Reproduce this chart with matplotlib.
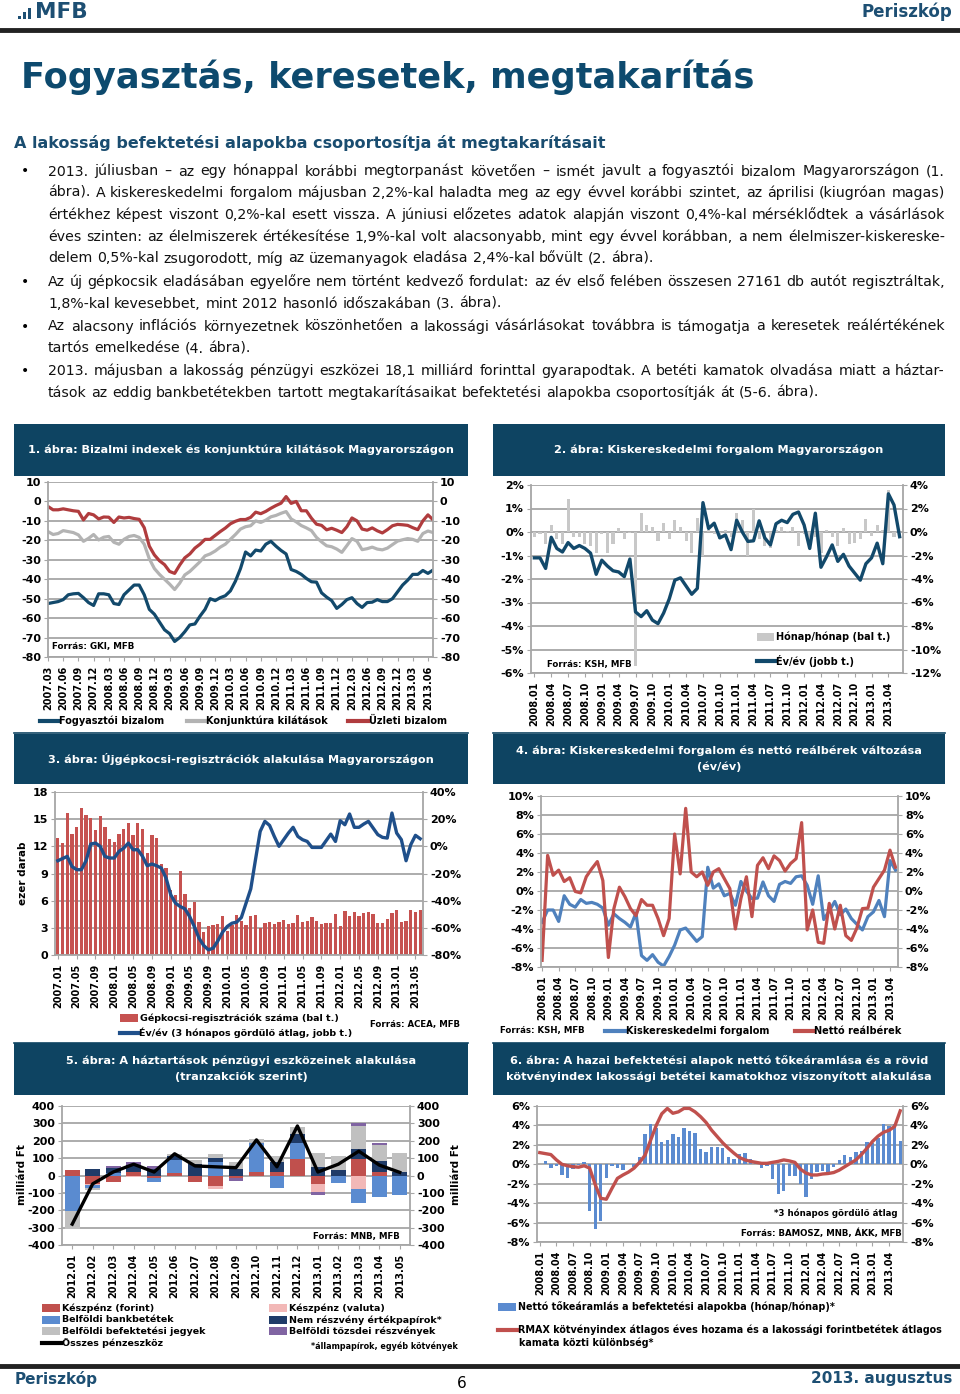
import matplotlib
matplotlib.use('Agg')
import matplotlib.pyplot as plt
import numpy as np
import pandas as pd
from matplotlib.lines import Line2D
from matplotlib.patches import Rectangle
from matplotlib.ticker import FuncFormatter

plt.rcParams['font.family'] = 'DejaVu Sans'
plt.rcParams['font.weight'] = 'bold'
plt.rcParams['axes.unicode_minus'] = False

W, H = 960, 1394
HEAD = '#0e4462'
BLUE_TXT = '#1d4f73'
GRID = '#a6a6a6'

# ---------------- data ----------------
# 1. abra: 2007.03 - 2013.07
consumer = [-52.5, -52, -51.5, -50.5, -48, -47.5, -47.3, -49.5, -52, -53.5,
            -47.5, -47.5, -48, -52.5, -53, -48, -45.5, -43, -43, -48,
            -55.5, -58, -62, -66, -68, -72, -70, -67, -63.5, -63,
            -59, -55.5, -50, -51, -49.5, -48.5, -46, -41, -34.5, -26,
            -28, -25, -25.5, -22, -20.5, -23, -25.2, -27, -35, -36,
            -37.5, -39.6, -41.3, -41.5, -47, -49.2, -51, -55, -53, -50.5,
            -49.5, -52.5, -54.5, -52, -51.8, -50.5, -51.5, -51.5, -50, -46.5,
            -43, -40.5, -37.5, -37.5, -35.5, -37, -35.3]
outlook = [-15.5, -17, -16.5, -15, -15.5, -16, -17.2, -20.5, -19, -17,
           -19.8, -18.4, -18, -21, -22, -19.5, -18, -17.5, -18.5, -22,
           -29.5, -34.5, -37.5, -40, -42.5, -45.3, -42, -37.8, -36, -33.5,
           -31, -28, -27, -25.5, -23.5, -22, -19.5, -17, -14.2, -13,
           -12.5, -10, -10.8, -9.6, -7.9, -7.2, -6.1, -5.2, -9, -10.5,
           -12.4, -13.6, -15, -18.5, -20.8, -22.8, -23.3, -24.5, -26.2, -22.7,
           -19.1, -20.5, -24.8, -24.3, -23.5, -24.5, -24.9, -24, -22.2, -20.4,
           -19.7, -19.1, -19.5, -20.5, -16.5, -15.2, -16]
business = [-2.6, -4.3, -4.3, -3.8, -4.3, -4.8, -5.1, -9.5, -6.2, -6.9,
            -9, -8, -8.1, -10.8, -8, -8.5, -8.2, -8.8, -9.2, -13.5,
            -23, -27.5, -30.5, -32.5, -36, -37, -32.7, -29, -27, -24,
            -22, -19.5, -19.5, -17.5, -15.5, -13.7, -11.5, -10.2, -9.3, -9.3,
            -8.2, -5.5, -6.3, -5.1, -3.5, -2.1, -0.9, 2.5, -1.0, 0,
            -4.8, -4.8, -8.6, -11.7, -12.3, -14.6, -13.8, -14.8, -16, -13,
            -8.5, -10, -14.2, -14.8, -13.6, -15.1, -16.2, -14.5, -12.5, -11.8,
            -12, -12.3, -13.5, -14.5, -10, -6.9, -9.4]

# 2. abra: 2008.01 - 2013.06
retail_mom = [-0.2, -0.1, -0.5, 0.3, -0.3, -0.5, 1.4, -0.2, -0.2, -0.5,
              -0.6, -0.9, -0.1, -0.9, -0.5, 0.15, -0.3, -0.05, -5.7, 0.8,
              0.3, 0.2, -0.4, 0.4, -0.3, 0.5, 0.2, -0.4, -0.9, 0.6,
              -1.0, 0.1, -0.1, -0.3, 0.1, -0.2, 0.8, 0.5, -1.0, 1.0,
              -0.3, -0.6, -0.7, 0.1, 0.2, 0.05, 0.2, -0.6, -0.1, -0.5,
              -0.2, -0.9, 0.1, -0.2, -0.6, 0.15, -0.5, -0.45, -0.3, 0.55,
              -0.15, 0.3, 0.1, 1.8, -0.2, -0.2]
retail_yoy = [-2.2, -2.2, -3.1, -0.45, -1.4, -1.7, -0.9, -1.4, -1.15, -1.4,
              -1.8, -3.6, -2.4, -2.9, -3.3, -3.4, -3.8, -2.3, -6.8, -7.2,
              -6.7, -7.5, -7.8, -6.9, -5.7, -4.1, -3.9, -4.6, -5.3, -4.8,
              2.5, 0.3, 0.75, -0.5, -0.25, -1.5, 1.0, 0.0, -0.8, -0.75,
              0.95, -0.5, -1.1, 0.7, 1.0, 0.8, 1.5, 1.7, 0.6, -1.4,
              1.6, -3.0, -2.1, -1.1, -2.5, -1.9, -2.9, -3.5, -4.1, -2.7,
              -2.2, -0.95, -2.7, 3.25, 2.3, -0.4]

# 3. abra: 2007.01 - 2013.06
cars = [12.9, 12.4, 15.7, 13.4, 14.1, 16.2, 15.5, 15.1, 13.8, 15.3,
        14.1, 12.8, 12.5, 13.4, 13.9, 14.6, 13.2, 14.6, 13.9, 11.3,
        13.3, 12.9, 10.0, 9.6, 7.2, 6.6, 9.3, 6.7, 5.2, 5.9,
        3.6, 2.5, 3.2, 3.3, 3.4, 4.3, 2.7, 3.3, 4.4, 3.7,
        3.3, 4.3, 4.4, 3.0, 3.5, 3.6, 3.4, 3.6, 3.9, 3.4,
        3.5, 4.4, 3.6, 3.8, 4.2, 3.7, 3.4, 3.5, 3.5, 4.5,
        3.2, 4.9, 4.3, 4.7, 4.3, 4.6, 4.8, 4.5, 3.5, 3.5,
        4.0, 4.6, 5.0, 3.6, 3.8, 5.0, 4.7, 4.95]
cars_yoy = [-10.6, -9, -7.4, -14.8, -17.2, -17.2, -10.6, 1.7, 2.4, 0,
            -7.4, -8.6, -8.6, -3.7, -1.3, 2.4, -2.5, -2.5, -7.4, -14.3,
            -13, -14.3, -16, -23.4, -35.7, -41.8, -44.3, -46, -51.6, -59,
            -67.6, -73, -76.2, -75, -69.6, -63.2, -59, -56.6, -55.8, -52.4,
            -41.8, -31.3, -9.9, 11, 18.4, 15.4, 7.3, 0, 4.9, 9.8,
            14, 7.3, 4.9, 3.6, -0.8, -0.8, -0.8, 4.1, 9, 3.6,
            18.9, 15.9, 23.8, 14, 14, 16.4, 18.4, 13.5, 8.6, 6.6,
            6.1, 24.5, 9.8, 4.9, -10.6, 1.2, 8.1, 5.6]

# 4. abra: 2008.01 - 2013.05
retail4 = [-3.3, -2.0, -2.0, -3.2, -0.5, -1.4, -1.7, -0.9, -1.3, -1.2,
           -1.4, -1.8, -3.6, -2.4, -2.9, -3.3, -3.8, -2.3, -6.8, -7.3,
           -6.7, -7.5, -7.9, -6.9, -5.7, -4.1, -3.9, -4.6, -5.3, -4.8,
           2.5, 0.3, 0.75, -0.5, -0.25, -1.5, 1.0, 0.0, -0.8, -0.75,
           0.95, -0.5, -1.1, 0.7, 1.0, 0.8, 1.5, 1.6, 0.6, -1.4,
           1.6, -3.0, -2.1, -1.1, -2.5, -1.9, -2.9, -3.5, -4.1, -2.7,
           -2.2, -1.0, -2.7, 3.2, 2.2]
wages = [-7.3, 3.75, 1.65, 2.2, 1.0, 1.4, -0.05, -0.2, 1.5, 2.35,
         3.1, 1.1, -7.0, -1.85, 0.4, -0.6, -1.85, -2.6, -0.9, -1.5,
         -1.5, -2.9, -4.7, -2.9, 6.0, 1.8, 8.7, 2.0, 1.5, 2.0,
         0.6, 2.0, 2.35, 1.3, 0.25, -4.0, -0.8, 1.5, -2.7, 2.7,
         3.5, 2.35, 3.7, 3.2, 2.1, 2.9, 3.4, 7.2, -4.1, -2.0,
         -5.4, -5.5, -1.3, -4.0, -1.5, -4.7, -5.2, -3.9, -1.85, -1.8,
         0.4, 1.3, 2.2, 4.3, 2.5]

# 5. abra: 2012.01 - 2013.05, milliard Ft
cash_huf = [30, -50, -35, 20, -15, 15, -35, -60, -15, 20, 20, 95, -50, 0, 95, 20, -5]
cash_fx = [0, -5, 0, -10, 0, 0, 0, -15, 0, -5, 0, 0, -45, 0, -75, 0, 0]
deposits = [-203, -18, 15, 0, -20, 75, 0, 80, 0, 165, -70, 90, 0, -45, -85, -125, -105]
securities = [0, 35, 30, 40, 40, 20, 65, 20, 40, 0, 60, 55, 50, 30, 55, 65, 20]
funds = [-107, -10, 0, 0, 0, 15, 25, 25, 35, 25, 30, 40, 80, 80, 135, 90, 110]
shares = [0, 0, 10, 15, 15, 0, 0, 0, -15, 0, 0, 0, -20, 5, 15, 10, 0]
total = [-280, -48, 20, 65, 20, 125, 55, 50, 45, 205, 50, 285, 20, 65, 140, 60, 18]

# 6. abra: 2008.01 - 2013.06
fund_flow = [0.0, 0.3, -0.4, -0.2, -1.1, -1.4, -0.5, -0.1, 0.2, -4.8,
             -6.7, -5.8, -1.4, -0.2, -0.4, -0.6, 0.0, -0.3, 0.7, 3.1,
             4.1, 3.7, 2.3, 2.5, 3.1, 2.8, 3.7, 3.4, 3.2, 1.6,
             1.3, 1.8, 1.8, 1.7, 0.7, 0.5, 1.1, 1.2, 0.5, 0.1,
             -0.4, -0.2, -1.5, -3.1, -2.8, -1.2, -1.2, -2.0, -3.4, -1.5,
             -0.8, -0.7, -0.9, -0.3, 0.4, 1.0, 0.7, 1.3, 1.4, 2.3,
             2.2, 2.7, 4.1, 3.9, 4.1, 2.4]
rmax_spread = [1.2, 1.1, 1.0, 0.45, 0.0, -0.15, -0.25, -0.3, -0.15, -0.4,
               -2.1, -3.5, -3.6, -2.5, -1.45, -1.1, -0.8, -0.4, 0.2, 0.95,
               2.5, 4.0, 5.2, 5.75, 5.25, 5.4, 5.75, 5.75, 5.4, 4.9,
               4.3, 3.5, 2.85, 2.2, 1.65, 1.15, 0.7, 0.45, 0.3, 0.2,
               0.1, 0.1, 0.2, 0.3, 0.45, 0.35, 0.2, -0.5, -0.9, -1.1,
               -1.1, -1.0, -0.95, -0.85, -0.6, -0.25, 0.1, 0.45, 1.0, 1.65,
               2.35, 2.9, 3.3, 3.5, 3.9, 5.5]


def months(start, n):
    return [p.strftime('%Y.%m') for p in pd.period_range(start, periods=n, freq='M')]


m1 = months('2007-03', len(consumer))
m2 = months('2008-01', len(retail_yoy))
m3 = months('2007-01', len(cars))
m4 = months('2008-01', len(retail4))
m5 = months('2012-01', len(total))
m6 = months('2008-01', len(fund_flow))

body = [
    ('2013. júliusban – az egy hónappal korábbi megtorpanást követően – ismét javult a fogyasztói bizalom Magyarországon (1.', True, True),
    ('ábra). A kiskereskedelmi forgalom májusban 2,2%-kal haladta meg az egy évvel korábbi szintet, az áprilisi (kiugróan magas)', False, True),
    ('értékhez képest viszont 0,2%-kal esett vissza. A júniusi előzetes adatok alapján viszont 0,4%-kal mérséklődtek a vásárlások', False, True),
    ('éves szinten: az élelmiszerek értékesítése 1,9%-kal volt alacsonyabb, mint egy évvel korábban, a nem élelmiszer-kiskereske-', False, True),
    ('delem 0,5%-kal zsugorodott, míg az üzemanyagok eladása 2,4%-kal bővült (2. ábra).', False, False),
    ('Az új gépkocsik eladásában egyelőre nem történt kedvező fordulat: az év első felében összesen 27161 db autót regisztráltak,', True, True),
    ('1,8%-kal kevesebbet, mint 2012 hasonló időszakában (3. ábra).', False, False),
    ('Az alacsony inflációs környezetnek köszönhetően a lakossági vásárlásokat továbbra is támogatja a keresetek reálértékének', True, True),
    ('tartós emelkedése (4. ábra).', False, False),
    ('2013. májusban a lakosság pénzügyi eszközei 18,1 milliárd forinttal gyarapodtak. A betéti kamatok olvadása miatt a háztar-', True, True),
    ('tások az eddig bankbetétekben tartott megtakarításaikat befektetési alapokba csoportosítják át (5-6. ábra).', False, False),
]
body_y = [175.5, 197, 219, 241, 262.5, 286, 307.5, 330.5, 352, 375, 397]
BODY_SIZE = 10.2

fig = plt.figure(figsize=(9.6, 13.94), dpi=100)
renderer = fig.canvas.get_renderer()


def fx(x):
    return x / W


def fy(y):
    return 1 - y / H


def box(l, t, r, b):
    return [l / W, 1 - b / H, (r - l) / W, (b - t) / H]


def hline(x0, x1, y, color, lw):
    fig.add_artist(Line2D([fx(x0), fx(x1)], [fy(y), fy(y)], color=color, lw=lw))


def rect(x0, y0, x1, y1, color):
    fig.add_artist(Rectangle((fx(x0), fy(y1)), (x1 - x0) / W, (y1 - y0) / H,
                             color=color, lw=0))


def txt(x, y, s, size=7, ha='left', va='center', **kw):
    return fig.text(fx(x), fy(y), s, fontsize=size, ha=ha, va=va, **kw)


def leg_line(x0, x1, y, color, label, size=7):
    hline(x0, x1, y, color, 3)
    txt(x1 + 1, y, label, size)


def leg_patch(x0, x1, y, color, label, size=7):
    rect(x0, y - 4, x1, y + 4, color)
    txt(x1 + 2, y, label, size)


def header(x0, x1, y0, y1, lines):
    rect(x0, y0, x1, y1, HEAD)
    mid = (y0 + y1) / 2
    off = (len(lines) - 1) * 8
    for k, s in enumerate(lines):
        txt((x0 + x1) / 2, mid - off + 16 * k, s, 8.1, ha='center', color='white')


def pct(v, p):
    return '{:.0f}%'.format(round(v) + 0)


def num(v, p):
    return '{:.0f}'.format(round(v) + 0)


def frame(ax, lo, hi, step, fmt, right=False):
    ax.set_ylim(lo, hi)
    ax.set_yticks(np.arange(lo, hi + step / 2, step))
    ax.yaxis.set_major_formatter(FuncFormatter(fmt))
    ax.grid(axis='y', color=GRID, lw=1.3)
    ax.set_axisbelow(True)
    ax.spines['top'].set_visible(False)
    for s in ('left', 'right', 'bottom'):
        ax.spines[s].set_color(GRID)
        ax.spines[s].set_linewidth(1.3)
    ax.tick_params(axis='y', labelsize=8, length=3, color=GRID, pad=2)
    if right:
        ax.tick_params(axis='y', right=True, labelright=True)


def xcat(ax, labels, step, lo, hi):
    ax.set_xlim(lo, hi)
    idx = list(range(0, len(labels), step))
    ax.set_xticks(idx)
    ax.set_xticklabels([labels[i] for i in idx], rotation=90, fontsize=7)
    ax.tick_params(axis='x', length=3, color=GRID, pad=3)


# ---------------- page header / text ----------------
for k, h in enumerate([3, 7, 11]):
    rect(18 + 5 * k, 19 - h, 21 + 5 * k, 19, BLUE_TXT)
txt(35, 12, 'MFB', 15.5, color=BLUE_TXT)
txt(952, 12, 'Periszkóp', 12, ha='right', color=BLUE_TXT)
hline(0, 960, 29.5, '#222222', 3.5)

txt(21, 77, 'Fogyasztás, keresetek, megtakarítás', 25.3, color='#0d4a6e')
txt(14, 143, 'A lakosság befektetési alapokba csoportosítja át megtakarításait', 11.5,
    color='#1a4d70')

sp = txt(0, 0, 'a a', BODY_SIZE, fontweight='normal')
sp2 = txt(0, 0, 'aa', BODY_SIZE, fontweight='normal')
space_w = sp.get_window_extent(renderer).width - sp2.get_window_extent(renderer).width
sp.remove()
sp2.remove()

for (line, bullet, just), y in zip(body, body_y):
    if bullet:
        txt(21, y, '•', 10, va='baseline', fontweight='normal')
    words = line.split(' ')
    items = [txt(48, y, w, BODY_SIZE, va='baseline', fontweight='normal', color='#111111')
             for w in words]
    ws = [t.get_window_extent(renderer).width for t in items]
    gap = (945 - 48 - sum(ws)) / (len(ws) - 1) if just else space_w
    x = 48
    for t, w in zip(items, ws):
        t.set_x(fx(x))
        x += w + gap

# ---------------- 1. abra ----------------
header(14, 468, 424, 476, ['1. ábra: Bizalmi indexek és konjunktúra kilátások Magyarországon'])
ax = fig.add_axes(box(48, 482, 433, 657))
x1 = np.arange(len(consumer))
ax.plot(x1, outlook, color='#b3b3b3', lw=2.3)
ax.plot(x1, business, color='#b03c3e', lw=2.3)
ax.plot(x1, consumer, color='#12496b', lw=2.3)
frame(ax, -80, 10, 10, num, right=True)
xcat(ax, m1, 3, 0, len(consumer) - 1)
txt(52, 646, 'Forrás: GKI, MFB', 6.3)
leg_line(40, 58, 721, '#12496b', 'Fogyasztói bizalom')
leg_line(187, 205, 721, '#b3b3b3', 'Konjunktúra kilátások')
leg_line(348, 368, 721, '#b03c3e', 'Üzleti bizalom')
hline(14, 468, 733, HEAD, 1.2)

# ---------------- 2. abra ----------------
header(493, 945, 424, 476, ['2. ábra: Kiskereskedelmi forgalom Magyarországon'])
ax = fig.add_axes(box(531, 485, 903, 673))
x2 = np.arange(len(retail_mom))
ax.bar(x2, retail_mom, width=0.55, color='#c8c8c8')
frame(ax, -6, 2, 1, pct)
xcat(ax, m2, 3, -0.6, len(retail_mom) - 0.4)
ax2 = ax.twinx()
ax2.plot(x2, retail_yoy, color='#12496b', lw=2.4)
ax2.set_ylim(-12, 4)
ax2.set_yticks(np.arange(-12, 5, 2))
ax2.yaxis.set_major_formatter(FuncFormatter(pct))
ax2.tick_params(axis='y', labelsize=8, length=3, color=GRID, pad=2)
for s in ax2.spines.values():
    s.set_visible(False)
leg_patch(757, 774, 637, '#c8c8c8', 'Hónap/hónap (bal t.)')
leg_line(757, 775, 661, '#12496b', 'Év/év (jobb t.)')
txt(547, 664, 'Forrás: KSH, MFB', 6.2)
hline(493, 945, 733, HEAD, 1.2)

# ---------------- 3. abra ----------------
header(14, 468, 734, 784, ['3. ábra: Újgépkocsi-regisztrációk alakulása Magyarországon'])
ax = fig.add_axes(box(55, 792, 423, 955))
x3 = np.arange(len(cars))
ax.bar(x3, cars, width=0.7, color='#c65250')
frame(ax, 0, 18, 3, num)
xcat(ax, m3, 4, -0.6, len(cars) - 0.4)
ax2 = ax.twinx()
ax2.plot(x3, cars_yoy, color='#1f4f8a', lw=2.4)
ax2.set_ylim(-80, 40)
ax2.set_yticks(np.arange(-80, 41, 20))
ax2.yaxis.set_major_formatter(FuncFormatter(pct))
ax2.tick_params(axis='y', labelsize=8, length=3, color=GRID, pad=2)
for s in ax2.spines.values():
    s.set_visible(False)
txt(23, 873, 'ezer darab', 7.5, ha='center', rotation=90)
leg_patch(120, 138, 1018, '#c65250', 'Gépkocsi-regisztrációk száma (bal t.)', 6.8)
leg_line(120, 138, 1033, '#1f4f8a', 'Év/év (3 hónapos gördülő átlag, jobb t.)', 6.8)
txt(460, 1025, 'Forrás: ACEA, MFB', 6.2, ha='right')
hline(14, 468, 1043, HEAD, 1.2)

# ---------------- 4. abra ----------------
header(493, 945, 734, 784, ['4. ábra: Kiskereskedelmi forgalom és nettó reálbérek változása',
                            '(év/év)'])
ax = fig.add_axes(box(541, 796, 898, 967))
x4 = np.arange(len(retail4))
ax.plot(x4, retail4, color='#4f81bd', lw=2.3)
ax.plot(x4, wages, color='#c0504d', lw=2.3)
frame(ax, -8, 10, 2, pct, right=True)
xcat(ax, m4, 3, -0.2, len(retail4) - 0.55)
txt(500, 1031, 'Forrás: KSH, MFB', 6.2)
leg_line(605, 625, 1031, '#4f81bd', 'Kiskereskedelmi forgalom')
leg_line(795, 813, 1031, '#c0504d', 'Nettó reálbérek')
hline(493, 945, 1043, HEAD, 1.2)

# ---------------- 5. abra ----------------
header(14, 468, 1043, 1095, ['5. ábra: A háztartások pénzügyi eszközeinek alakulása',
                             '(tranzakciók szerint)'])
ax = fig.add_axes(box(62, 1106, 410, 1245))
x5 = np.arange(len(total))
stack5 = [(cash_huf, '#c0504d', 'Készpénz (forint)'),
          (cash_fx, '#f2b8b7', 'Készpénz (valuta)'),
          (deposits, '#5a8bd0', 'Belföldi bankbetétek'),
          (securities, '#1f3b68', 'Nem részvény értékpapírok*'),
          (funds, '#c0c0c0', 'Belföldi befektetési jegyek'),
          (shares, '#8064a2', 'Belföldi tőzsdei részvények')]
pos = np.zeros(len(total))
neg = np.zeros(len(total))
for vals, col, lab in stack5:
    v = np.array(vals, float)
    ax.bar(x5, v, bottom=np.where(v >= 0, pos, neg), width=0.72, color=col)
    pos += np.clip(v, 0, None)
    neg += np.clip(v, None, 0)
ax.plot(x5, total, color='black', lw=2.4)
frame(ax, -400, 400, 100, num, right=True)
xcat(ax, m5, 1, -0.5, len(total) - 0.5)
txt(22, 1175, 'milliárd Ft', 7.5, ha='center', rotation=90)
txt(456, 1175, 'milliárd Ft', 7.5, ha='center', rotation=90)
txt(400, 1237, 'Forrás: MNB, MFB', 6.2, ha='right')
leg_x = [(42, 60), (269, 287)]
leg_y = [1308, 1320, 1331]
for k, (vals, col, lab) in enumerate(stack5):
    xa, xb = leg_x[k % 2]
    leg_patch(xa, xb, leg_y[k // 2], col, lab, 6.8)
leg_line(42, 61, 1343, 'black', 'Összes pénzeszköz', 6.8)
txt(458, 1346, '*állampapírok, egyéb kötvények', 5.8, ha='right')

# ---------------- 6. abra ----------------
header(493, 945, 1043, 1095, ['6. ábra: A hazai befektetési alapok nettó tőkeáramlása és a rövid',
                              'kötvényindex lakossági betétei kamatokhoz viszonyított alakulása'])
ax = fig.add_axes(box(537, 1106, 903, 1242))
x6 = np.arange(len(fund_flow))
ax.bar(x6, fund_flow, width=0.6, color='#5b8bd0')
ax.plot(x6, rmax_spread, color='#c0504d', lw=2.4)
frame(ax, -8, 6, 2, pct, right=True)
xcat(ax, m6, 3, -0.5, len(fund_flow) - 0.5)
txt(897, 1213, '*3 hónapos gördülő átlag', 6.2, ha='right')
txt(902, 1233, 'Forrás: BAMOSZ, MNB, ÁKK, MFB', 6.2, ha='right')
leg_patch(498, 516, 1307, '#5b8bd0', 'Nettó tőkeáramlás a befektetési alapokba (hónap/hónap)*', 6.9)
leg_line(498, 517, 1330, '#c0504d',
         'RMAX kötvényindex átlagos éves hozama és a lakossági forintbetétek átlagos', 6.9)
txt(519, 1343, 'kamata közti különbség*', 6.9)

# ---------------- footer ----------------
hline(0, 960, 1366, '#222222', 3.5)
txt(15, 1379, 'Periszkóp', 11, color=BLUE_TXT)
txt(462, 1384, '6', 11, ha='center', fontweight='normal')
txt(952, 1379, '2013. augusztus', 11, ha='right', color=BLUE_TXT)

fig.savefig('out.png', dpi=100)
